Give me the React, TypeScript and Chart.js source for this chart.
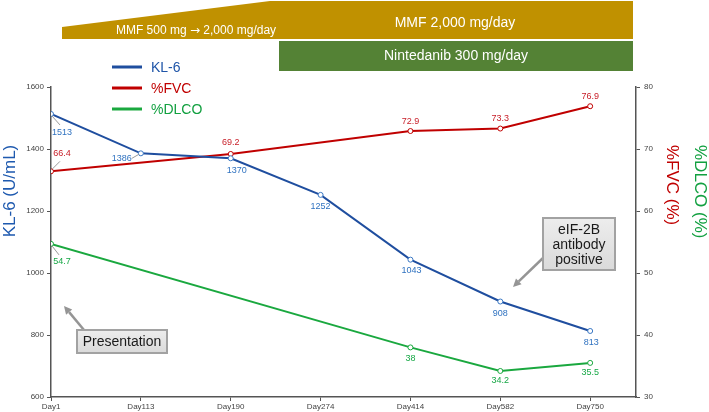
import { useEffect, useRef } from "react";
import { Chart, registerables } from "chart.js";

Chart.register(...registerables);

// ---- data ----
const dayLabels = ["Day1", "Day113", "Day190", "Day274", "Day414", "Day582", "Day750"];
const kl6Values: (number | null)[] = [1513, 1386, 1370, 1252, 1043, 908, 813];
const fvcValues: (number | null)[] = [66.4, null, 69.2, null, 72.9, 73.3, 76.9];
const dlcoValues: (number | null)[] = [54.7, null, null, null, 38, 34.2, 35.5];
const kl6Range = [600, 1600];
const pctRange = [30, 80];

// ---- look ----
const FONT = "'Liberation Sans', Arial, sans-serif";
const KL6_COLOR = "#1F4E9F";
const KL6_TEXT = "#2F72C0";
const FVC_COLOR = "#C00000";
const FVC_TEXT = "#C8202A";
const DLCO_COLOR = "#1AA83F";
const DLCO_TEXT = "#17A846";
const AXIS_COLOR = "#555555";

type Place = { dx: number; dy: number; leader?: [number, number, number, number] } | null;

// value-label offsets (relative to each marker)
const kl6Place: Place[] = [
  { dx: 11, dy: 19, leader: [1, 2, 9, 11] },
  { dx: -19, dy: 5, leader: [-9, 5, -2, 1] },
  { dx: 6, dy: 12 },
  { dx: 0, dy: 12 },
  { dx: 1, dy: 11 },
  { dx: 0, dy: 12 },
  { dx: 1, dy: 12 },
];
const fvcPlace: Place[] = [
  { dx: 11, dy: -18, leader: [1, -2, 9, -10] },
  null,
  { dx: 0, dy: -11 },
  null,
  { dx: 0, dy: -10 },
  { dx: 0, dy: -10 },
  { dx: 0, dy: -10 },
];
const dlcoPlace: Place[] = [
  { dx: 11, dy: 18, leader: [1, 2, 8, 11] },
  null,
  null,
  null,
  { dx: 0, dy: 11 },
  { dx: 0, dy: 10 },
  { dx: 0, dy: 10 },
];

const toPoints = (vals: (number | null)[]) =>
  vals
    .map((v, i) => (v === null ? null : { x: i, y: v }))
    .filter((p): p is { x: number; y: number } => p !== null);

function arrow(ctx: CanvasRenderingContext2D, x1: number, y1: number, x2: number, y2: number) {
  const ang = Math.atan2(y2 - y1, x2 - x1);
  const head = 8;
  const bx = x2 - Math.cos(ang) * head;
  const by = y2 - Math.sin(ang) * head;
  ctx.strokeStyle = "#959595";
  ctx.fillStyle = "#959595";
  ctx.lineWidth = 2.5;
  ctx.beginPath();
  ctx.moveTo(x1, y1);
  ctx.lineTo(bx, by);
  ctx.stroke();
  ctx.beginPath();
  ctx.moveTo(x2, y2);
  ctx.lineTo(bx + Math.sin(ang) * 4, by - Math.cos(ang) * 4);
  ctx.lineTo(bx - Math.sin(ang) * 4, by + Math.cos(ang) * 4);
  ctx.closePath();
  ctx.fill();
}

function noteBox(ctx: CanvasRenderingContext2D, x: number, y: number, w: number, h: number, lines: string[], lineGap: number) {
  const g = ctx.createLinearGradient(0, y, 0, y + h);
  g.addColorStop(0, "#EDEDED");
  g.addColorStop(1, "#DADADA");
  ctx.fillStyle = g;
  ctx.fillRect(x, y, w, h);
  ctx.strokeStyle = "#A2A2A2";
  ctx.lineWidth = 2;
  ctx.strokeRect(x, y, w, h);
  ctx.fillStyle = "#1A1A1A";
  ctx.font = `14px ${FONT}`;
  ctx.textAlign = "center";
  ctx.textBaseline = "middle";
  const cy = y + h / 2 - ((lines.length - 1) * lineGap) / 2;
  lines.forEach((t, i) => ctx.fillText(t, x + w / 2, cy + i * lineGap + 1));
}

// centred text made of runs, each in its own font
function runs(ctx: CanvasRenderingContext2D, parts: [string, string][], cx: number, cy: number) {
  const widths = parts.map(([t, f]) => {
    ctx.font = f;
    return ctx.measureText(t).width;
  });
  let x = cx - widths.reduce((a, b) => a + b, 0) / 2;
  ctx.textAlign = "left";
  parts.forEach(([t, f], i) => {
    ctx.font = f;
    ctx.fillText(t, x, cy);
    x += widths[i];
  });
}

const overlayPlugin = {
  id: "overlay",
  afterDraw(chart: any) {
    const ctx: CanvasRenderingContext2D = chart.ctx;
    ctx.save();

    // treatment banners
    ctx.fillStyle = "#C09100";
    ctx.beginPath();
    ctx.moveTo(62, 39);
    ctx.lineTo(62, 27);
    ctx.lineTo(270, 1);
    ctx.lineTo(633, 1);
    ctx.lineTo(633, 39);
    ctx.closePath();
    ctx.fill();
    ctx.fillStyle = "#548235";
    ctx.fillRect(279, 41, 354, 30);

    ctx.fillStyle = "#FFFFFF";
    ctx.textBaseline = "middle";
    runs(
      ctx,
      [
        ["MMF 500 mg ", `12px ${FONT}`],
        ["\u2192", `12px 'DejaVu Sans', sans-serif`],
        [" 2,000 mg/day", `12px ${FONT}`],
      ],
      196,
      31
    );
    ctx.textAlign = "center";
    ctx.font = `14px ${FONT}`;
    ctx.fillText("MMF 2,000 mg/day", 455, 23);
    ctx.fillText("Nintedanib 300 mg/day", 456, 56);

    // legend
    const legend: [string, string, string, number][] = [
      ["KL-6", KL6_COLOR, "#1F55A8", 67],
      ["%FVC", FVC_COLOR, FVC_COLOR, 88],
      ["%DLCO", DLCO_COLOR, "#12A040", 109],
    ];
    ctx.font = `14px ${FONT}`;
    ctx.textAlign = "left";
    legend.forEach(([name, lc, tc, y]) => {
      ctx.strokeStyle = lc;
      ctx.lineWidth = 3;
      ctx.beginPath();
      ctx.moveTo(112, y);
      ctx.lineTo(142, y);
      ctx.stroke();
      ctx.fillStyle = tc;
      ctx.fillText(name, 151, y + 1);
    });

    // axis titles
    ctx.font = `17px ${FONT}`;
    ctx.save();
    ctx.translate(10, 191);
    ctx.rotate(-Math.PI / 2);
    ctx.textAlign = "center";
    ctx.fillStyle = "#1F5AAF";
    ctx.fillText("KL-6 (U/mL)", 0, 0);
    ctx.restore();

    ctx.save();
    ctx.translate(672, 145);
    ctx.rotate(Math.PI / 2);
    ctx.textAlign = "left";
    ctx.fillStyle = FVC_COLOR;
    ctx.fillText("%FVC (%)", 0, 0);
    ctx.restore();

    ctx.save();
    ctx.translate(700, 145);
    ctx.rotate(Math.PI / 2);
    ctx.textAlign = "left";
    ctx.fillStyle = "#12A040";
    ctx.fillText("%DLCO (%)", 0, 0);
    ctx.restore();

    // value labels
    const places = [kl6Place, fvcPlace, dlcoPlace];
    const colors = [KL6_TEXT, FVC_TEXT, DLCO_TEXT];
    ctx.font = `9px ${FONT}`;
    ctx.textAlign = "center";
    ctx.textBaseline = "middle";
    chart.data.datasets.forEach((ds: any, di: number) => {
      const meta = chart.getDatasetMeta(di);
      ds.data.forEach((pt: { x: number; y: number }, k: number) => {
        const el = meta.data[k];
        const pl = places[di][pt.x];
        if (!el || !pl) return;
        if (pl.leader) {
          const [a, b, c, d] = pl.leader;
          ctx.strokeStyle = "#9A9A9A";
          ctx.lineWidth = 1;
          ctx.beginPath();
          ctx.moveTo(el.x + a, el.y + b);
          ctx.lineTo(el.x + c, el.y + d);
          ctx.stroke();
        }
        ctx.fillStyle = colors[di];
        ctx.fillText(String(pt.y), el.x + pl.dx, el.y + pl.dy);
      });
    });

    // annotations
    arrow(ctx, 84, 330, 64, 306);
    noteBox(ctx, 77, 330, 90, 23, ["Presentation"], 15);
    arrow(ctx, 543, 258, 513, 287);
    noteBox(ctx, 543, 218, 72, 52, ["eIF-2B", "antibody", "positive"], 15);

    ctx.restore();
  },
};

export default function App() {
  const ref = useRef<HTMLCanvasElement>(null);

  useEffect(() => {
    if (!ref.current) return;
    const tickFont = { family: FONT, size: 8 };
    const chart = new Chart(ref.current, {
      type: "line",
      data: {
        datasets: [
          {
            label: "KL-6",
            data: toPoints(kl6Values),
            yAxisID: "y",
            borderColor: KL6_COLOR,
            borderWidth: 2,
            pointRadius: 2.5,
            pointBorderWidth: 1,
            pointBackgroundColor: "#FFFFFF",
            pointBorderColor: "#3A78C4",
          },
          {
            label: "%FVC",
            data: toPoints(fvcValues),
            yAxisID: "y1",
            borderColor: FVC_COLOR,
            borderWidth: 2,
            pointRadius: 2.5,
            pointBorderWidth: 1,
            pointBackgroundColor: "#FFFFFF",
            pointBorderColor: FVC_COLOR,
          },
          {
            label: "%DLCO",
            data: toPoints(dlcoValues),
            yAxisID: "y1",
            borderColor: DLCO_COLOR,
            borderWidth: 2,
            pointRadius: 2.5,
            pointBorderWidth: 1,
            pointBackgroundColor: "#FFFFFF",
            pointBorderColor: DLCO_COLOR,
          },
        ],
      },
      options: {
        responsive: false,
        animation: false,
        events: [],
        layout: { padding: { top: 87, left: 0, right: 0, bottom: 0 } },
        plugins: { legend: { display: false }, tooltip: { enabled: false } },
        scales: {
          x: {
            type: "linear",
            min: 0,
            max: 6.51,
            afterBuildTicks: (s: any) => {
              s.ticks = dayLabels.map((_, i) => ({ value: i }));
            },
            afterFit: (s: any) => {
              s.height = 15;
            },
            ticks: {
              callback: (v: any) => dayLabels[v] ?? "",
              font: tickFont,
              color: "#444444",
              padding: 1,
              maxRotation: 0,
              autoSkip: false,
            },
            grid: { drawOnChartArea: false, drawTicks: true, tickLength: 4, color: AXIS_COLOR },
            border: { color: AXIS_COLOR, width: 1.5 },
          },
          y: {
            position: "left",
            min: kl6Range[0],
            max: kl6Range[1],
            afterFit: (s: any) => {
              s.width = 51;
            },
            ticks: {
              stepSize: 200,
              font: tickFont,
              color: "#444444",
              padding: 3,
              callback: (v: any) => String(v),
            },
            grid: { drawOnChartArea: false, drawTicks: true, tickLength: 4, color: AXIS_COLOR },
            border: { color: AXIS_COLOR, width: 1.5 },
          },
          y1: {
            position: "right",
            min: pctRange[0],
            max: pctRange[1],
            afterFit: (s: any) => {
              s.width = 73;
            },
            ticks: {
              stepSize: 10,
              font: tickFont,
              color: "#444444",
              padding: 4,
              callback: (v: any) => String(v),
            },
            grid: { drawOnChartArea: false, drawTicks: true, tickLength: 4, color: AXIS_COLOR },
            border: { color: AXIS_COLOR, width: 1.5 },
          },
        },
      } as any,
      plugins: [overlayPlugin],
    });
    return () => chart.destroy();
  }, []);

  return (
    <div style={{ position: "absolute", left: 0, top: 0, width: 709, height: 412, background: "#FFFFFF" }}>
      <canvas ref={ref} width={709} height={412} style={{ display: "block" }} />
    </div>
  );
}
